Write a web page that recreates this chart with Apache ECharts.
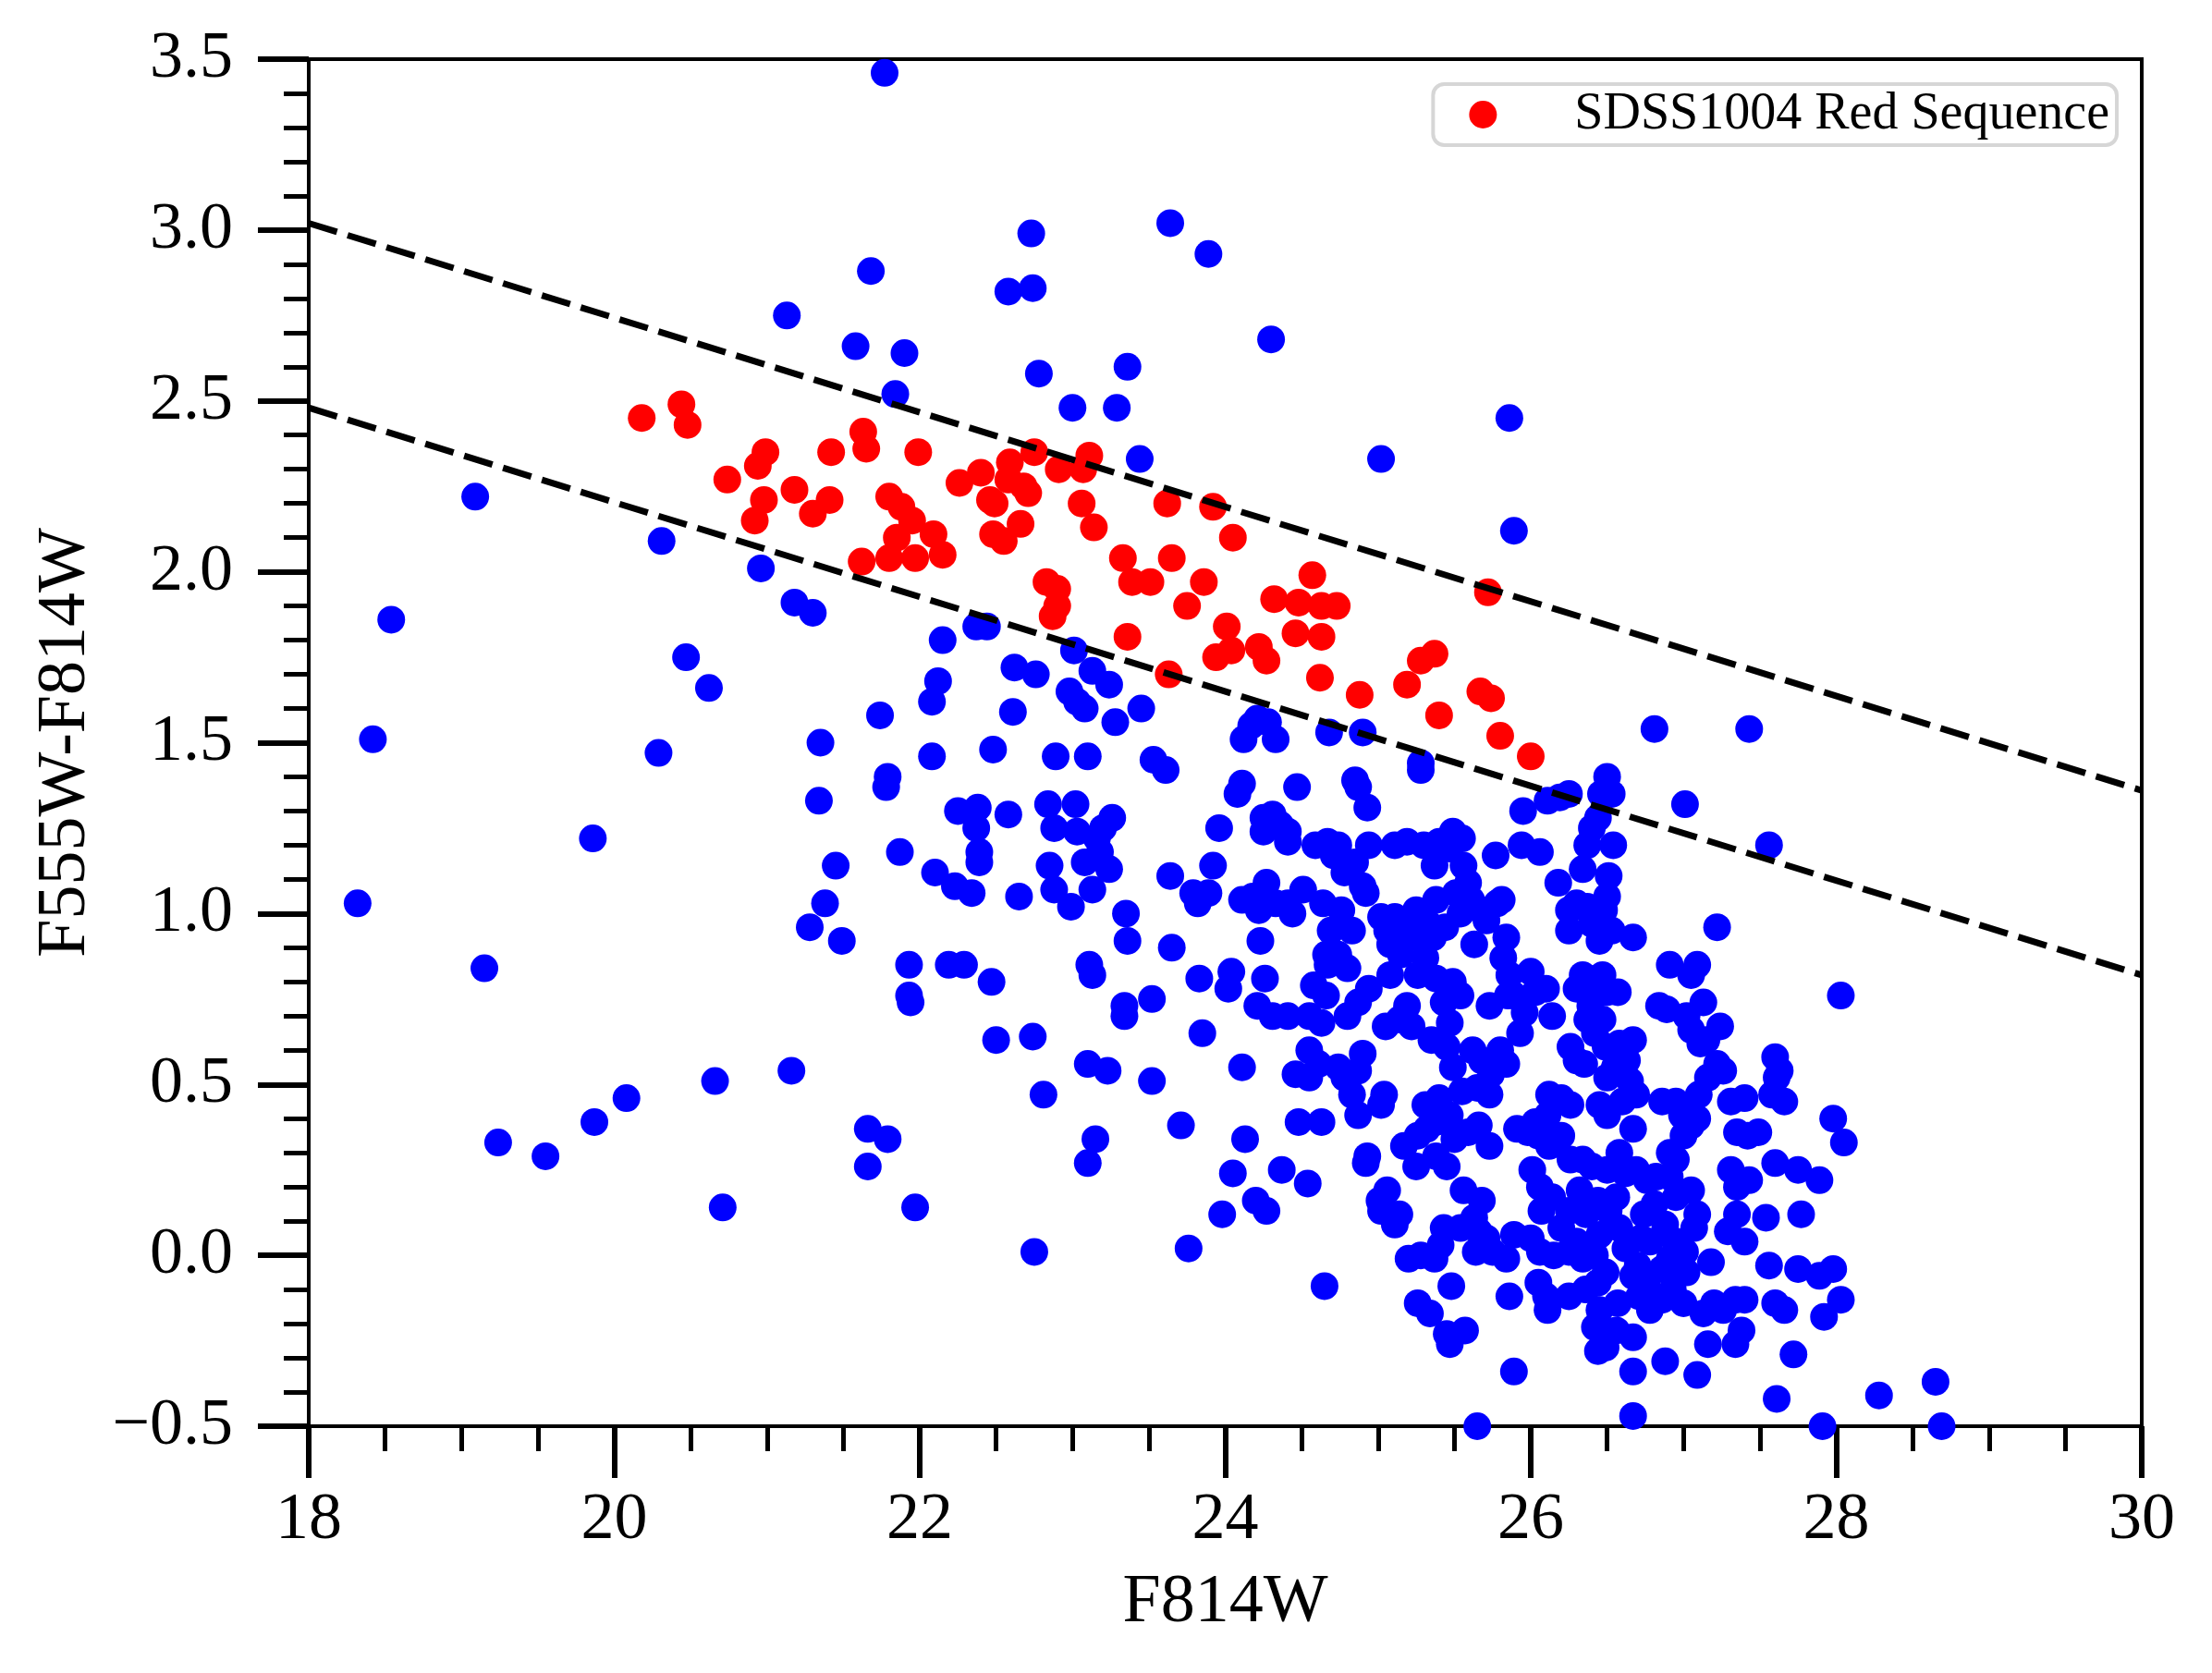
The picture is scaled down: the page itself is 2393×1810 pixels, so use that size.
<!DOCTYPE html>
<html>
<head>
<meta charset="utf-8">
<script src="https://cdn.jsdelivr.net/npm/echarts@6/dist/echarts.min.js"></script>
<style>html,body{margin:0;padding:0;background:#fff;}#chart{width:2393px;height:1810px;}</style>
</head>
<body>
<div id="chart"></div>
<script>
// ---- data ----
const xTicks = [18, 20, 22, 24, 26, 28, 30];
const yTicks = [-0.5, 0.0, 0.5, 1.0, 1.5, 2.0, 2.5, 3.0, 3.5];
const upperCut = [[18, 3.02], [30, 1.36]];
const lowerCut = [[18, 2.48], [30, 0.82]];
const redSequence = [
[20.18,2.45],[20.44,2.49],[20.48,2.43],[20.74,2.27],[20.99,2.35],[20.94,2.31],[20.98,2.21],[20.92,2.15],[21.18,2.24],[21.30,2.17],[21.41,2.21],[21.42,2.35],[21.63,2.41],[21.65,2.36],[21.62,2.03],[21.80,2.22],[21.88,2.19],[21.95,2.15],[21.85,2.10],[21.80,2.04],[21.97,2.04],[21.99,2.35],
[22.26,2.26],[22.40,2.29],[22.59,2.32],[22.75,2.35],[22.58,2.27],[22.68,2.25],[22.71,2.23],[22.46,2.21],[22.49,2.20],[22.91,2.30],[23.07,2.30],[23.11,2.34],[23.06,2.20],[23.14,2.13],[22.66,2.14],[22.48,2.11],[22.55,2.09],[22.09,2.11],[22.15,2.05],[23.62,2.20],[23.92,2.19],[24.05,2.10],[23.33,2.04],[23.65,2.04],[23.39,1.97],[23.51,1.97],[23.86,1.97],[22.83,1.97],[22.90,1.95],[22.90,1.90],[22.87,1.87],[23.75,1.90],[24.57,1.99],[24.32,1.92],[24.48,1.91],[24.63,1.90],[24.73,1.90],[24.46,1.82],[24.63,1.81],[24.01,1.84],[24.04,1.77],[23.94,1.75],[24.22,1.78],[24.27,1.74],[23.36,1.81],[23.63,1.70],[24.62,1.69],[24.88,1.64],[25.19,1.67],[25.28,1.74],[25.37,1.76],[25.67,1.65],[25.72,1.94],
[25.40,1.58],[25.74,1.63],[25.80,1.52],[26.00,1.46]
];
const otherSources = [
[21.77,3.46],[23.64,3.02],[23.89,2.93],[22.73,2.99],[21.68,2.88],[22.58,2.82],[22.74,2.83],[21.13,2.75],[21.58,2.66],[21.90,2.64],[21.84,2.52],[24.30,2.68],[22.78,2.58],[23.36,2.60],[23.00,2.48],[23.29,2.48],[23.44,2.33],[25.02,2.33],[25.86,2.45],[25.89,2.12],
[19.09,2.22],[20.31,2.09],[20.96,2.01],[21.18,1.91],[21.30,1.88],[18.54,1.86],[22.15,1.80],[22.37,1.84],[22.44,1.84],[20.47,1.75],[20.62,1.66],[22.62,1.72],[22.76,1.70],[23.01,1.77],[23.13,1.71],[22.12,1.68],[22.08,1.62],[22.98,1.65],[23.03,1.62],[23.08,1.60],[23.24,1.67],[22.61,1.59],[21.74,1.58],[23.45,1.60],[23.28,1.56],[18.42,1.51],[20.29,1.47],[21.35,1.50],[22.08,1.46],[22.48,1.48],[22.89,1.46],[23.10,1.46],[21.79,1.40],[21.78,1.37],[23.53,1.45],[23.61,1.42],[21.34,1.33],[19.86,1.22],[21.87,1.18],[21.45,1.14],[22.10,1.12],[21.38,1.03],[18.32,1.03],[21.28,0.96],[21.49,0.92],[19.15,0.84],[21.93,0.85],[21.93,0.76],[21.94,0.74],[22.19,0.85],[22.29,0.85],[22.47,0.80],[22.23,1.08],[22.34,1.06],[22.25,1.30],[22.38,1.31],[22.37,1.25],[22.39,1.18],[22.39,1.15],[22.58,1.29],[22.65,1.05],[22.50,0.63],[22.74,0.64],[22.81,0.47],[21.16,0.54],[20.66,0.51],[20.08,0.46],[19.87,0.39],[19.24,0.33],[19.55,0.29],[20.71,0.14],[21.66,0.37],[21.79,0.34],[21.66,0.26],[21.97,0.14],[22.75,0.01],
[22.84,1.32],[22.88,1.25],[22.85,1.14],[22.88,1.07],[22.99,1.02],[23.02,1.32],[23.03,1.24],[23.08,1.15],[23.16,1.22],[23.18,1.18],[23.20,1.25],[23.26,1.28],[23.24,1.13],[23.13,1.07],[23.35,1.00],[23.36,0.92],[23.11,0.85],[23.13,0.82],[23.34,0.73],[23.34,0.70],[23.52,0.75],[23.10,0.56],[23.23,0.54],[23.52,0.51],[23.15,0.34],[23.10,0.27],[23.71,0.38],[23.85,0.65],[23.76,0.02],[23.98,0.12],[24.13,0.34],[24.05,0.24],[24.20,0.16],[24.27,0.13],[24.37,0.25],[24.54,0.21],[24.48,0.39],[24.63,0.39],[24.65,-0.09],
[23.65,0.90],[23.64,1.11],[23.79,1.06],[23.82,1.03],[23.89,1.06],[23.92,1.14],[23.83,0.81],[24.02,0.78],[24.04,0.83],[23.96,1.25],[24.08,1.35],[24.11,1.38],[24.12,1.51],[24.17,1.55],[24.21,1.57],[24.28,1.56],[24.33,1.51],[24.25,1.28],[24.31,1.29],[24.36,1.26],[24.25,1.24],[24.41,1.24],[24.41,1.21],[24.47,1.37],[24.11,1.04],[24.18,1.05],[24.27,1.09],[24.22,1.01],[24.33,1.03],[24.41,1.03],[24.51,1.07],[24.44,1.00],[24.23,0.92],[24.26,0.81],[24.21,0.73],[24.31,0.70],[24.41,0.70],[24.11,0.55],
[24.59,1.20],[24.67,1.21],[24.74,1.20],[24.68,1.53],[24.90,1.53],[24.85,1.39],[24.87,1.37],[24.93,1.31],[24.78,1.12],[24.71,1.17],[24.85,1.15],[24.90,1.08],[24.64,1.03],[24.69,0.95],[24.76,1.01],[24.83,0.95],[24.92,1.06],[24.66,0.88],[24.67,0.85],[24.74,0.88],[24.80,0.84],[24.58,0.79],[24.66,0.76],[24.55,0.70],[24.63,0.68],[24.80,0.70],[24.87,0.74],[24.94,0.78],[24.46,0.53],[24.55,0.60],[24.61,0.56],[24.55,0.52],[24.74,0.55],[24.78,0.52],[24.87,0.54],[24.90,0.59],[24.83,0.47],[24.87,0.41],[25.02,0.44],[25.04,0.47],[24.93,0.29],[24.92,0.27],[25.01,0.16],[25.02,0.13],[25.06,0.19],[25.14,0.12],[25.11,0.09],[25.17,0.32],[25.26,0.35],[25.32,0.37],[25.31,0.44],[25.40,0.46],[25.38,0.39],[25.47,0.41],[25.50,0.34],[25.38,0.29],[25.45,0.26],[25.25,0.26],[25.20,-0.01],[25.28,0.00],[25.41,0.03],[25.43,0.08],[25.37,-0.01],[25.26,-0.14],[25.34,-0.17],[25.48,-0.09],[25.45,-0.23],[25.47,-0.26],[25.57,-0.22],[25.65,-0.50],
[25.54,0.08],[25.56,0.19],[25.63,0.11],[25.68,0.16],[25.66,0.07],[25.71,0.05],[25.64,0.01],[25.75,0.01],[25.84,-0.01],[25.89,0.06],[25.86,-0.12],[25.89,-0.34],[25.59,0.36],[25.66,0.38],[25.73,0.32],[25.65,0.49],[25.73,0.47],[25.55,0.48],[25.62,0.60],[25.68,0.57],[25.74,0.53],[25.84,0.56],[25.80,0.60],[25.49,0.55],[25.45,0.61],[25.35,0.63],[25.47,0.68],[25.43,0.74],[25.54,0.76],[25.49,0.80],[25.38,0.81],[25.31,0.87],[25.26,0.82],[25.22,0.93],[25.15,0.88],[25.08,0.82],[25.08,0.91],[25.19,0.73],[25.14,0.69],[25.05,0.67],[25.22,0.67],[25.02,0.99],[25.11,0.99],[25.18,0.98],[25.06,0.95],[25.25,1.01],[25.33,0.97],[25.36,0.93],[25.44,0.96],[25.54,1.00],[25.61,1.04],[25.51,1.06],[25.38,1.04],[25.59,1.09],[25.56,1.14],[25.47,1.19],[25.37,1.14],[25.55,1.22],[25.49,1.24],[25.40,1.21],[25.30,1.20],[25.19,1.21],[25.11,1.20],[24.94,1.20],[25.28,1.44],[25.28,1.42],[25.63,0.91],[25.68,1.01],[25.78,1.03],[25.71,0.98],[25.81,1.04],[25.77,1.17],[25.84,0.93],[25.86,0.82],[25.89,0.76],[25.96,0.71],[25.93,0.65],[25.85,0.76],[25.73,0.73],[25.82,0.87],
[25.95,1.30],[25.94,1.20],[26.06,1.18],[26.11,1.33],[26.19,1.34],[26.25,1.35],[26.18,1.09],[26.25,1.01],[26.25,0.95],[26.30,1.03],[26.34,1.13],[26.37,1.20],[26.40,1.25],[26.44,1.28],[26.46,1.35],[26.50,1.40],[26.53,1.35],[26.54,1.20],[26.51,1.11],[26.50,1.05],[26.48,1.01],[26.37,1.02],[26.40,0.97],[26.45,0.92],[26.53,0.95],[26.67,0.93],[26.34,0.82],[26.30,0.78],[26.42,0.78],[26.47,0.82],[26.50,0.77],[26.57,0.77],[26.39,0.73],[26.37,0.69],[26.47,0.69],[26.42,0.65],[26.49,0.61],[26.58,0.62],[26.67,0.63],[26.55,0.55],[26.50,0.52],[26.63,0.57],[26.65,0.51],[26.69,0.47],[26.26,0.61],[26.30,0.57],[26.35,0.56],[26.14,0.70],[26.10,0.78],[26.03,0.77],[26.00,0.83],[26.12,0.47],[26.20,0.46],[26.26,0.44],[26.11,0.41],[26.03,0.39],[25.98,0.36],[25.91,0.37],[26.05,0.35],[26.12,0.32],[26.20,0.35],[26.26,0.28],[26.34,0.28],[26.40,0.26],[26.45,0.44],[26.50,0.41],[26.60,0.45],[26.67,0.37],[26.58,0.30],[26.50,0.25],[26.62,0.24],[26.69,0.25],[26.01,0.25],[26.06,0.20],[26.14,0.17],[26.07,0.13],[26.25,0.13],[26.32,0.19],[26.36,0.12],[26.44,0.16],[26.51,0.13],[26.56,0.17],[26.58,0.08],[26.45,0.06],[26.20,0.08],[26.00,0.05],[26.06,0.01],[26.15,0.00],[26.25,0.01],[26.30,0.04],[26.34,-0.01],[26.42,0.00],[26.49,-0.05],[26.05,-0.08],[26.10,-0.12],[26.11,-0.16],[26.25,-0.12],[26.36,-0.10],[26.44,-0.08],[26.45,-0.16],[26.42,-0.21],[26.44,-0.28],[26.49,-0.27],[26.56,-0.22],[26.57,-0.14],[26.67,-0.06],[26.62,0.02],[26.72,0.05],[26.78,0.04],[26.70,-0.03],[26.76,-0.08],[26.71,-0.12],[26.78,-0.16],[26.86,-0.13],[26.67,-0.24],[26.67,-0.34],[26.67,-0.47],[26.88,-0.31],
[26.74,0.12],[26.81,0.15],[26.76,0.22],[26.82,0.23],[26.91,0.23],[26.95,0.17],[26.88,0.09],[26.95,0.04],[26.91,-0.01],[26.86,-0.04],[26.93,-0.10],[27.00,-0.14],[27.02,-0.05],[27.01,0.01],[27.07,0.08],[27.09,0.12],[27.05,0.19],[26.95,0.28],[26.91,0.30],[27.00,0.35],[27.05,0.38],[26.99,0.41],[27.09,0.40],[26.86,0.45],[26.95,0.45],[27.10,0.47],[27.16,0.52],[27.22,0.56],[27.15,0.63],[27.11,0.62],[27.05,0.66],[27.02,0.70],[26.89,0.72],[26.84,0.73],[26.91,0.85],[27.05,0.82],[27.09,0.85],[27.13,0.74],[27.24,0.67],[27.22,0.96],[27.01,1.32],[26.81,1.54],[27.43,1.54],[27.56,1.20],[28.03,0.76],[27.18,-0.02],[27.13,-0.17],[27.16,-0.26],[27.09,-0.35],[27.20,-0.14],[27.26,-0.16],[27.34,-0.13],[27.29,0.07],[27.35,0.12],[27.40,0.04],[27.31,0.25],[27.35,0.20],[27.43,0.22],[27.35,0.36],[27.42,0.35],[27.49,0.36],[27.31,0.45],[27.40,0.46],[27.58,0.47],[27.60,0.58],[27.63,0.54],[27.61,0.52],[27.66,0.45],[27.26,0.54],[27.40,-0.13],[27.38,-0.22],[27.34,-0.26],[27.56,-0.03],[27.60,-0.14],[27.66,-0.16],[27.75,-0.04],[27.72,-0.29],[27.61,-0.42],[27.60,0.27],[27.75,0.25],[27.89,0.22],[27.77,0.12],[27.89,-0.06],[27.92,-0.18],[27.98,-0.04],[28.03,-0.13],[27.98,0.40],[28.05,0.33],[27.91,-0.50],[28.28,-0.41],[28.65,-0.37],[28.69,-0.50],[27.54,0.11]
];

// ---- chart ----
const FONT = "'Liberation Serif', 'DejaVu Serif', serif";
const chart = echarts.init(document.getElementById('chart'), null, {renderer: 'canvas'});
const fmtY = v => (v < 0 ? '\u2212' : '') + Math.abs(v).toFixed(1);
chart.setOption({
  animation: false,
  backgroundColor: '#ffffff',
  grid: {left: 334, right: 76, top: 64, bottom: 267, show: true, borderColor: '#000', borderWidth: 4, backgroundColor: 'transparent'},
  legend: {
    data: ['SDSS1004 Red Sequence'],
    right: 103, top: 91,
    orient: 'vertical',
    padding: [5, 8, 5, 39],
    itemWidth: 30, itemHeight: 30,
    borderColor: '#d6d6d6', borderWidth: 4, borderRadius: 12,
    backgroundColor: '#ffffff',
    textStyle: {fontFamily: FONT, fontSize: 56, color: '#000', padding: [0, 0, 0, 79], lineHeight: 56}
  },
  xAxis: {
    type: 'value', min: xTicks[0], max: xTicks[xTicks.length - 1], interval: 2,
    name: 'F814W', nameLocation: 'middle', nameGap: 155,
    nameTextStyle: {fontFamily: FONT, fontSize: 74, color: '#000'},
    axisLine: {show: true, onZero: false, lineStyle: {color: '#000', width: 4}},
    axisTick: {show: true, inside: false, length: 56, lineStyle: {color: '#000', width: 6}},
    minorTick: {show: true, splitNumber: 4, length: 27, lineStyle: {color: '#000', width: 5}},
    axisLabel: {margin: 66, fontFamily: FONT, fontSize: 72, color: '#000', formatter: v => String(v)},
    splitLine: {show: false}
  },
  yAxis: {
    type: 'value', min: yTicks[0], max: yTicks[yTicks.length - 1], interval: 0.5,
    name: 'F555W-F814W', nameLocation: 'middle', nameGap: 225, nameRotate: 90,
    nameTextStyle: {fontFamily: FONT, fontSize: 74, color: '#000'},
    axisLine: {show: true, onZero: false, lineStyle: {color: '#000', width: 4}},
    axisTick: {show: true, inside: false, length: 55, lineStyle: {color: '#000', width: 6}},
    minorTick: {show: true, splitNumber: 5, length: 27, lineStyle: {color: '#000', width: 5}},
    axisLabel: {margin: 82, fontFamily: FONT, fontSize: 72, color: '#000', formatter: fmtY},
    splitLine: {show: false}
  },
  series: [
    {name: 'other', type: 'scatter', data: otherSources, symbol: 'circle', symbolSize: 30,
     itemStyle: {color: '#0000ff', opacity: 1}, z: 2},
    {name: 'SDSS1004 Red Sequence', type: 'scatter', data: redSequence, symbol: 'circle', symbolSize: 30,
     itemStyle: {color: '#ff0000', opacity: 1}, z: 3},
    {name: 'upper', type: 'line', data: upperCut, symbol: 'none', z: 4,
     lineStyle: {color: '#000', width: 7, type: [32, 12]}},
    {name: 'lower', type: 'line', data: lowerCut, symbol: 'none', z: 4,
     lineStyle: {color: '#000', width: 7, type: [32, 12]}}
  ]
});
</script>
</body>
</html>
